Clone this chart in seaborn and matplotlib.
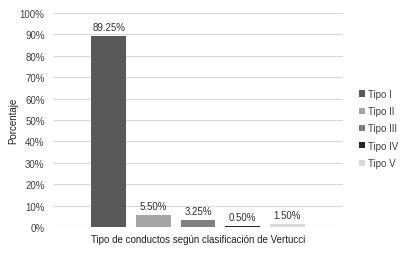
import matplotlib
matplotlib.use("Agg")
import matplotlib.pyplot as plt
import seaborn as sns
import pandas as pd

categories = ["Tipo I", "Tipo II", "Tipo III", "Tipo IV", "Tipo V"]
values = [89.25, 5.50, 3.25, 0.50, 1.50]
value_labels = ["89.25%", "5.50%", "3.25%", "0.50%", "1.50%"]
colors = ["#595959", "#a6a6a6", "#7f7f7f", "#262626", "#d9d9d9"]
group = "Tipo de conductos según clasificación de Vertucci"
yticks = [0, 10, 20, 30, 40, 50, 60, 70, 80, 90, 100]

sns.set_style("white")
plt.rcParams['font.family'] = ['Liberation Sans', 'DejaVu Sans']

df = pd.DataFrame({"grupo": [group] * len(categories), "tipo": categories, "valor": values})

fig = plt.figure(figsize=(4.0, 2.55), dpi=100)
ax = fig.add_axes([53/400, 27/255, 290/400, 214/255])

sns.barplot(data=df, x="grupo", y="valor", hue="tipo", hue_order=categories,
            palette=colors, width=0.77, gap=0.22, ax=ax, legend=False,
            saturation=1, edgecolor="none")

ax.set_xlim(-0.5, 0.5)
ax.set_ylim(0, 100)
ax.set_yticks(yticks)
ax.set_yticklabels([f"{t}%" for t in yticks], fontsize=7, color="#404040")
ax.yaxis.grid(True, color="#d9d9d9", linewidth=0.8)
ax.set_axisbelow(True)
for s in ax.spines.values():
    s.set_visible(False)
ax.tick_params(axis="both", length=0, pad=6)
ax.set_xticks([])
ax.set_xlabel(group, fontsize=7, color="#202020", labelpad=5)
ax.set_ylabel("Porcentaje", fontsize=7, color="#202020")
ax.yaxis.set_label_coords(-0.12, 0.5)

for cont, lab in zip(ax.containers, value_labels):
    ax.bar_label(cont, labels=[lab], fontsize=7, color="#303030", padding=3)

from matplotlib.patches import Patch
handles = [Patch(facecolor=c, edgecolor="none") for c in colors]
fig.legend(handles, categories, loc="upper left", bbox_to_anchor=(355/400, 1 - 86/255),
           frameon=False, fontsize=7, handlelength=0.6, handleheight=0.6,
           handletextpad=0.3, labelspacing=0.75, borderaxespad=0, labelcolor="#404040")

fig.savefig("out.png", dpi=100)
